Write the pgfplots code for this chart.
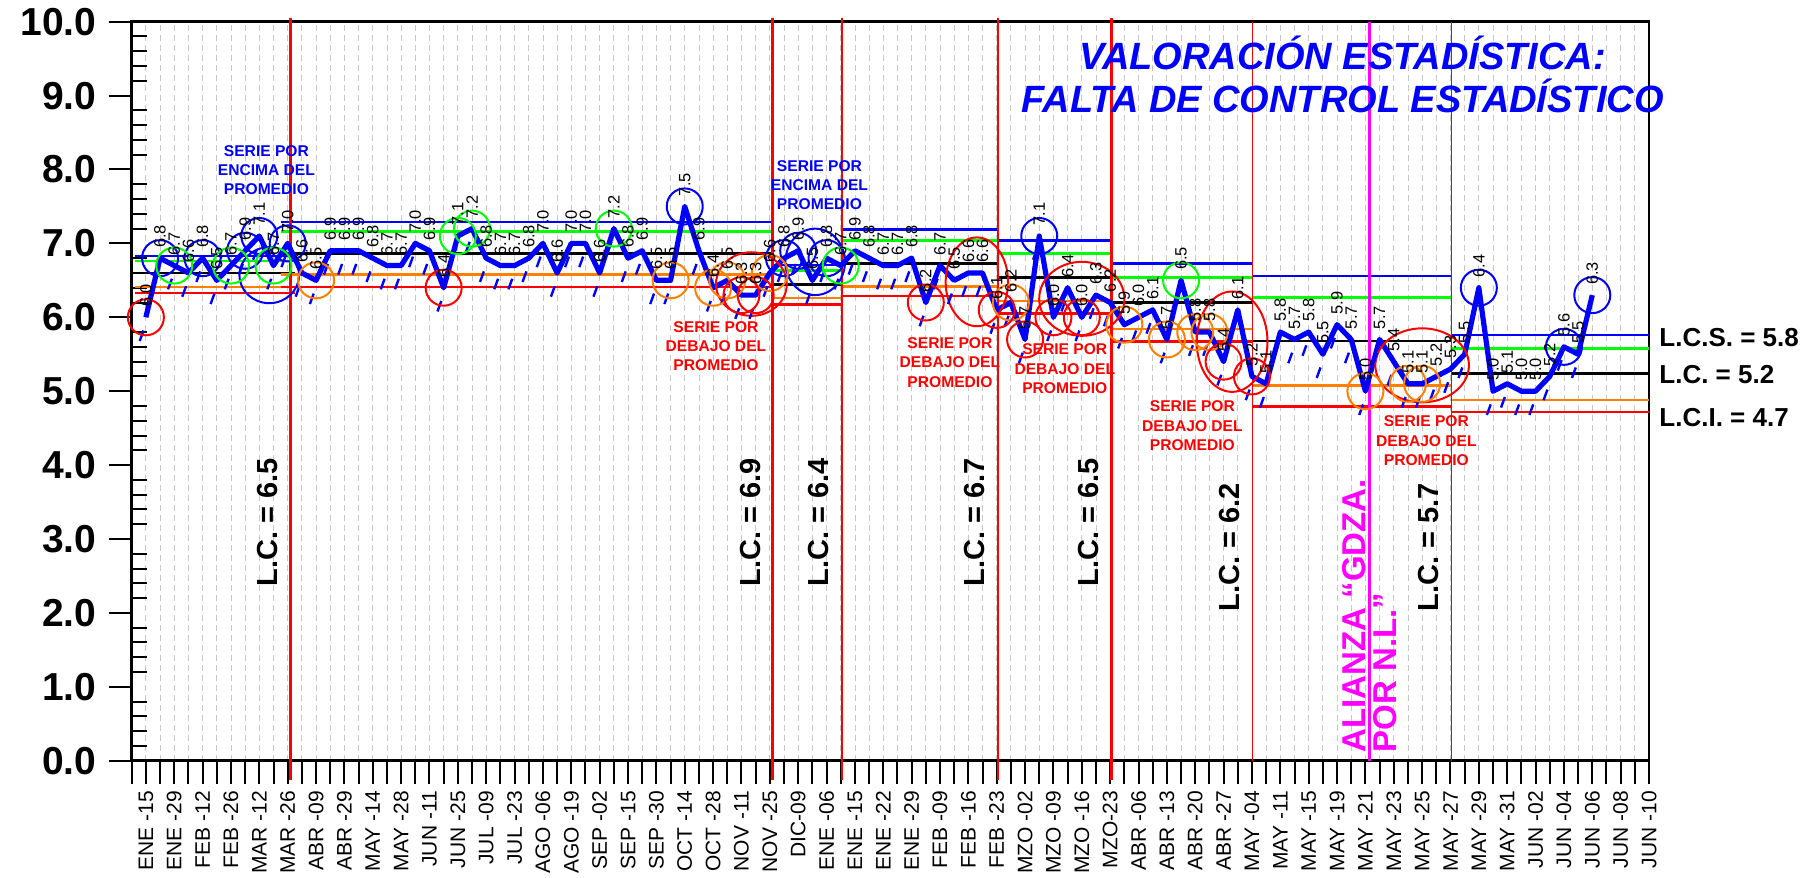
\documentclass[border=0pt]{standalone}
\usepackage{fontspec}
\setmainfont{Liberation Sans}
\usepackage{pgfplots}
\usepackage{pgfplotstable}
\pgfplotsset{compat=1.18}
\definecolor{cblue}{RGB}{0,0,255}
\definecolor{cgreen}{RGB}{0,255,0}
\definecolor{corange}{RGB}{255,128,0}
\definecolor{cred}{RGB}{255,0,0}
\definecolor{cmag}{RGB}{255,0,255}

\pgfplotstableread{
x y
0 6.0
1 6.8
2 6.7
3 6.6
4 6.8
5 6.5
6 6.7
7 6.9
8 7.1
9 6.7
10 7.0
11 6.6
12 6.5
13 6.9
14 6.9
15 6.9
16 6.8
17 6.7
18 6.7
19 7.0
20 6.9
21 6.4
22 7.1
23 7.2
24 6.8
25 6.7
26 6.7
27 6.8
28 7.0
29 6.6
30 7.0
31 7.0
32 6.6
33 7.2
34 6.8
35 6.9
36 6.5
37 6.5
38 7.5
39 6.9
40 6.4
41 6.5
42 6.3
43 6.3
44 6.6
45 6.8
46 6.9
47 6.5
48 6.8
49 6.7
50 6.9
51 6.8
52 6.7
53 6.7
54 6.8
55 6.2
56 6.7
57 6.5
58 6.6
59 6.6
60 6.1
61 6.2
62 5.7
63 7.1
64 6.0
65 6.4
66 6.0
67 6.3
68 6.2
69 5.9
70 6.0
71 6.1
72 5.7
73 6.5
74 5.8
75 5.8
76 5.4
77 6.1
78 5.2
79 5.1
80 5.8
81 5.7
82 5.8
83 5.5
84 5.9
85 5.7
86 5.0
87 5.7
88 5.4
89 5.1
90 5.1
91 5.2
92 5.3
93 5.5
94 6.4
95 5.0
96 5.1
97 5.0
98 5.0
99 5.2
100 5.6
101 5.5
102 6.3
}\datatable

\pgfplotsset{lim/.style={line width=1.3pt}}
\newcommand\segm[7]{%
\addplot[cblue,lim] coordinates {(#1,#3) (#2,#3)};
\addplot[cgreen,lim] coordinates {(#1,#4) (#2,#4)};
\addplot[black,lim] coordinates {(#1,#5) (#2,#5)};
\addplot[corange,lim] coordinates {(#1,#6) (#2,#6)};
\addplot[cred,lim] coordinates {(#1,#7) (#2,#7)};}

\begin{document}
\begin{tikzpicture}
\begin{axis}[
 at={(0,0)}, anchor=south west,
 scale only axis, width=758.65pt, height=369.5pt,
 xmin=-1, xmax=106, ymin=0, ymax=10,
 clip=false,
 axis line style={line width=1.35pt},
 xtick={-1,0,...,106},
 xticklabels={{},{ENE -15},{},{ENE -29},{},{FEB -12},{},{FEB -26},{},{MAR -12},{},{MAR -26},{},{ABR -09},{},{ABR -29},{},{MAY -14},{},{MAY -28},{},{JUN -11},{},{JUN -25},{},{JUL -09},{},{JUL -23},{},{AGO -06},{},{AGO -19},{},{SEP -02},{},{SEP -15},{},{SEP -30},{},{OCT -14},{},{OCT -28},{},{NOV -11},{},{NOV -25},{},{DIC-09},{},{ENE -06},{},{ENE -15},{},{ENE -22},{},{ENE -29},{},{FEB -09},{},{FEB -16},{},{FEB -23},{},{MZO -02},{},{MZO -09},{},{MZO -16},{},{MZO-23},{},{ABR -06},{},{ABR -13},{},{ABR -20},{},{ABR -27},{},{MAY -04},{},{MAY -11},{},{MAY -15},{},{MAY -19},{},{MAY -21},{},{MAY -23},{},{MAY -25},{},{MAY -27},{},{MAY -29},{},{MAY -31},{},{JUN -02},{},{JUN -04},{},{JUN -06},{},{JUN -08},{},{JUN -10}},
 ytick={0,1,...,10},
 yticklabels={0.0,1.0,2.0,3.0,4.0,5.0,6.0,7.0,8.0,9.0,10.0},
 minor y tick num=4,
 tick align=outside,
 xtick pos=bottom, ytick pos=left,
 major tick length=11.5pt,
 minor tick length=7.5pt,
 tick style={line width=1pt, black},
 minor y tick style={xshift=7.5pt},
 xmajorgrids, major x grid style={densely dashed, black!22, line width=0.4pt},
 xticklabel style={rotate=90, anchor=east, font=\fontsize{10.5}{12}\selectfont, inner xsep=3.5pt, inner ysep=0pt},
 yticklabel style={font=\bfseries\fontsize{19.5}{22}\selectfont, inner sep=0pt, xshift=-6pt},
]
% control limits per segment: x0 x1 LCS green LC orange LCI
\segm{-0.8}{10.5}{6.83}{6.76}{6.60}{6.41}{6.33}
\segm{9.5}{44.3}{7.29}{7.16}{6.86}{6.58}{6.41}
\segm{44.2}{49.1}{6.71}{6.63}{6.44}{6.26}{6.17}
\segm{49.1}{60.0}{7.19}{7.04}{6.73}{6.42}{6.29}
\segm{60.15}{68.1}{7.04}{6.86}{6.54}{6.22}{6.05}
\segm{68.1}{78.05}{6.73}{6.54}{6.20}{5.84}{5.67}
\segm{78.05}{92.1}{6.56}{6.27}{5.68}{5.08}{4.79}
\segm{92.1}{106}{5.76}{5.58}{5.24}{4.88}{4.72}
% vertical lines
\addplot[cred, line width=1.35pt] coordinates {(10.2,-0.26) (10.2,10.05)};
\addplot[cred, line width=1.35pt] coordinates {(44.2,-0.26) (44.2,10.05)};
\addplot[cred, line width=1.35pt] coordinates {(49.1,-0.26) (49.1,10.05)};
\addplot[cred, line width=1.35pt] coordinates {(60.1,-0.26) (60.1,10.05)};
\addplot[cred, line width=1.35pt] coordinates {(68.1,-0.26) (68.1,10.05)};
\addplot[cred, line width=0.5pt] coordinates {(78.05,0) (78.05,10)};
\addplot[cred, line width=0.5pt] coordinates {(92.1,0) (92.1,10)};
\addplot[cmag, line width=1.35pt] coordinates {(86.3,0) (86.3,10)};
% slanted dash marks under the series
\addplot[only marks, mark=|, mark size=2.8pt, mark options={cblue, line width=1.2pt, rotate=-20}]
  table[x expr=\thisrow{x}-0.3, y expr=\thisrow{y}-0.25]{\datatable};
% main series
\addplot[cblue, line width=2.6pt, line join=round] table[x=x,y=y]{\datatable};
% circles
\addplot[only marks, mark=o, mark size=9pt, mark options={cblue, line width=1pt}]
 coordinates {(1,6.8) (4,6.8) (7,6.9) (8,7.1) (10,7.0) (38,7.5) (45,6.8) (46,6.9) (48,6.8) (63,7.1) (94,6.4) (100,5.6) (102,6.3)};
\addplot[only marks, mark=o, mark size=9pt, mark options={cgreen, line width=1pt}]
 coordinates {(2,6.7) (6,6.7) (9,6.7) (22,7.1) (23,7.2) (33,7.2) (49,6.7) (73,6.5)};
\addplot[only marks, mark=o, mark size=9pt, mark options={corange, line width=1pt}]
 coordinates {(12,6.5) (37,6.5) (40,6.4) (41,6.5) (44,6.6) (61,6.2) (69,5.9) (72,5.7) (74,5.8) (75,5.8) (86,5.0) (89,5.1) (90,5.1)};
\addplot[only marks, mark=o, mark size=9pt, mark options={cred, line width=1pt}]
 coordinates {(0,6.0) (21,6.4) (42,6.3) (43,6.3) (55,6.2) (60,6.1) (62,5.7) (64,6.0) (66,6.0) (76,5.4) (78,5.2)};
% big ellipses
\draw[cblue, line width=1pt] (axis cs:8.7,6.57) ellipse [x radius=14.9pt, y radius=14pt];
\draw[cblue, line width=1pt] (axis cs:47.2,6.75) ellipse [x radius=14.9pt, y radius=16.6pt];
\draw[cred, line width=1pt] (axis cs:42.7,6.45) ellipse [x radius=17.7pt, y radius=15.9pt];
\draw[cred, line width=1pt] (axis cs:58.6,6.48) ellipse [x radius=15.6pt, y radius=22.2pt];
\draw[cred, line width=1pt] (axis cs:66,6.25) ellipse [x radius=21.3pt, y radius=18.5pt];
\draw[cred, line width=1pt] (axis cs:76.6,5.67) ellipse [x radius=17.7pt, y radius=25.1pt];
\draw[cred, line width=1pt] (axis cs:90,5.35) ellipse [x radius=23.4pt, y radius=18.5pt];
% value labels
\addplot[draw=none, mark=none, nodes near coords={\pgfmathprintnumber[fixed, fixed zerofill, precision=1, assume math mode=true]{\pgfplotspointmeta}},
 point meta=y,
 every node near coord/.append style={rotate=90, anchor=west, font=\fontsize{8.2}{9}\selectfont, inner xsep=5pt, inner ysep=0pt, black}]
 table[x=x,y=y]{\datatable};
% texts
\node[cblue, font=\bfseries\fontsize{7.8}{9.5}\selectfont, align=center] at (axis cs:8.5,7.99) {SERIE POR\\ENCIMA DEL\\PROMEDIO};
\node[cblue, font=\bfseries\fontsize{7.8}{9.5}\selectfont, align=center] at (axis cs:47.5,7.79) {SERIE POR\\ENCIMA DEL\\PROMEDIO};
\node[cred, font=\bfseries\fontsize{7.8}{9.7}\selectfont, align=center] at (axis cs:40.2,5.61) {SERIE POR\\DEBAJO DEL\\PROMEDIO};
\node[cred, font=\bfseries\fontsize{7.8}{9.7}\selectfont, align=center] at (axis cs:56.7,5.39) {SERIE POR\\DEBAJO DEL\\PROMEDIO};
\node[cred, font=\bfseries\fontsize{7.8}{9.7}\selectfont, align=center] at (axis cs:64.8,5.30) {SERIE POR\\DEBAJO DEL\\PROMEDIO};
\node[cred, font=\bfseries\fontsize{7.8}{9.7}\selectfont, align=center] at (axis cs:73.8,4.53) {SERIE POR\\DEBAJO DEL\\PROMEDIO};
\node[cred, font=\bfseries\fontsize{7.8}{9.7}\selectfont, align=center] at (axis cs:90.3,4.33) {SERIE POR\\DEBAJO DEL\\PROMEDIO};
\node[cblue, font=\bfseries\itshape\fontsize{19}{21.5}\selectfont, align=center] at (axis cs:84.4,9.29) {VALORACIÓN ESTADÍSTICA:\\FALTA DE CONTROL ESTADÍSTICO};
% L.C. labels
\node[rotate=90, font=\bfseries\fontsize{14.5}{16}\selectfont] at (axis cs:8.55,3.23) {L.C. = 6.5};
\node[rotate=90, font=\bfseries\fontsize{14.5}{16}\selectfont] at (axis cs:42.65,3.23) {L.C. = 6.9};
\node[rotate=90, font=\bfseries\fontsize{14.5}{16}\selectfont] at (axis cs:47.45,3.23) {L.C. = 6.4};
\node[rotate=90, font=\bfseries\fontsize{14.5}{16}\selectfont] at (axis cs:58.45,3.23) {L.C. = 6.7};
\node[rotate=90, font=\bfseries\fontsize{14.5}{16}\selectfont] at (axis cs:66.45,3.23) {L.C. = 6.5};
\node[rotate=90, font=\bfseries\fontsize{14.5}{16}\selectfont] at (axis cs:76.4,2.89) {L.C. = 6.2};
\node[rotate=90, font=\bfseries\fontsize{14.5}{16}\selectfont] at (axis cs:90.45,2.89) {L.C. = 5.7};
\node[rotate=90, anchor=west, inner sep=0pt, cmag, font=\bfseries\fontsize{16.5}{18}\selectfont] at (axis cs:85.2,0.11) {ALIANZA “GDZA.};
\node[rotate=90, anchor=west, inner sep=0pt, cmag, font=\bfseries\fontsize{16.5}{18}\selectfont] at (axis cs:87.4,0.11) {POR N.L.”};
% right labels
\node[anchor=west, inner sep=0pt, xshift=5pt, font=\bfseries\fontsize{13}{15}\selectfont] at (axis cs:106,5.72) {L.C.S. = 5.8};
\node[anchor=west, inner sep=0pt, xshift=5pt, font=\bfseries\fontsize{13}{15}\selectfont] at (axis cs:106,5.22) {L.C. = 5.2};
\node[anchor=west, inner sep=0pt, xshift=5pt, font=\bfseries\fontsize{13}{15}\selectfont] at (axis cs:106,4.64) {L.C.I. = 4.7};
\end{axis}
\pgfresetboundingbox
\path[use as bounding box] (-65.85pt,-58.15pt) rectangle (835.15pt,380.35pt);
\end{tikzpicture}
\end{document}
